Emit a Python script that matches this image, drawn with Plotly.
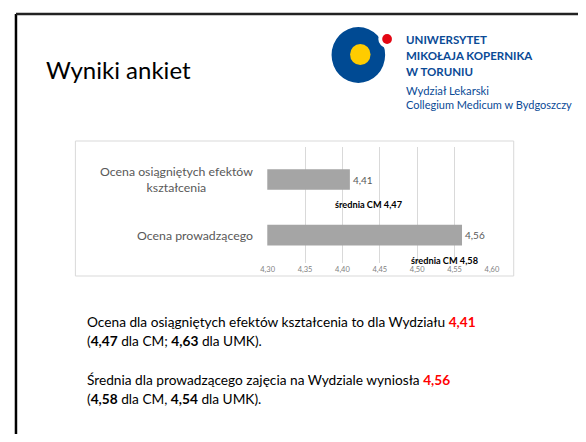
import plotly.graph_objects as go

# The page body adds an 8px margin, so the figure is drawn smaller (to avoid
# scrollbars) and every reference pixel position is shifted by that offset.
OFF = 8
W, H = 586 - OFF, 442 - 2 * OFF

# ---- data ----
categories = ["Ocena osiągniętych efektów kształcenia", "Ocena prowadzącego"]
category_labels = ["Ocena osiągniętych efektów<br>kształcenia", "Ocena prowadzącego"]
wydzial_values = [4.41, 4.56]
cm_values = [4.47, 4.58]
umk_values = [4.63, 4.54]
x_ticks = [4.30, 4.35, 4.40, 4.45, 4.50, 4.55, 4.60]


def px(x):
    return (x - OFF) / W


def py(y):
    return 1 - (y - OFF) / H


def fmt(v):
    return f"{v:.2f}".replace(".", ",")


FONT = "Lato"
GRAY = "#595959"
BLUE = "#0a4a96"

fig = go.Figure()
fig.add_trace(go.Bar(
    y=categories, x=wydzial_values, orientation="h",
    marker=dict(color="#a5a5a5", line=dict(width=0)),
    width=0.37,
    texttemplate="%{x:.2f}", textposition="outside",
    textfont=dict(family=FONT, size=10, color=GRAY),
    cliponaxis=False, hoverinfo="skip",
))

annotations = []
# category labels
for cat, lab in zip(categories, category_labels):
    annotations.append(dict(
        x=px(254), xref="paper", xanchor="right", y=cat, yref="y", yanchor="middle",
        text=lab, showarrow=False, align="center",
        font=dict(family=FONT, size=12.3, color=GRAY),
    ))
# CM averages
cm_x = [371, 449]
for cat, v, cx in zip(categories, cm_values, cm_x):
    annotations.append(dict(
        x=px(cx), xref="paper", xanchor="center", y=cat, yref="y", yanchor="middle",
        yshift=-25, text=f"<b>średnia CM {fmt(v)}</b>", showarrow=False,
        font=dict(family=FONT, size=9.2, color="black"),
    ))

# title
annotations.append(dict(x=px(38), y=py(70), xref="paper", yref="paper", xanchor="left",
                        yanchor="middle", text="Wyniki ankiet", showarrow=False,
                        font=dict(family=FONT, size=24, color="black")))

# logo texts
logo_lines = [
    ("<b>UNIWERSYTET</b>", 40, 11.5),
    ("<b>MIKOŁAJA KOPERNIKA</b>", 56, 11.5),
    ("<b>W TORUNIU</b>", 71, 11.5),
    ("Wydział Lekarski", 90, 11.3),
    ("Collegium Medicum w Bydgoszczy", 104, 11.0),
]
for t, yy, s in logo_lines:
    annotations.append(dict(x=px(409), y=py(yy), xref="paper", yref="paper", xanchor="left",
                            yanchor="middle", text=t, showarrow=False, borderwidth=0,
                            borderpad=0, font=dict(family=FONT, size=s, color=BLUE)))

# body text
RED = "#ff0000"
body = [
    (f"Ocena dla osiągniętych efektów kształcenia to dla Wydziału "
     f"<span style='color:{RED}'><b>{fmt(wydzial_values[0])}</b></span>", 321),
    (f"(<b>{fmt(cm_values[0])}</b> dla CM; <b>{fmt(umk_values[0])}</b> dla UMK).", 340),
    (f"Średnia dla prowadzącego zajęcia na Wydziale wyniosła "
     f"<span style='color:{RED}'><b>{fmt(wydzial_values[1])}</b></span>", 379),
    (f"(<b>{fmt(cm_values[1])}</b> dla CM, <b>{fmt(umk_values[1])}</b> dla UMK).", 398),
]
for t, yy in body:
    annotations.append(dict(x=px(80), y=py(yy), xref="paper", yref="paper", xanchor="left",
                            yanchor="middle", text=t, showarrow=False,
                            font=dict(family=FONT, size=13.7, color="black")))

shapes = [
    # slide frame: left and top edges only
    dict(type="line", xref="paper", yref="paper", x0=px(9), y0=0, x1=px(9), y1=py(14),
         line=dict(color="black", width=2.5), layer="above"),
    dict(type="line", xref="paper", yref="paper", x0=px(9), y0=py(14), x1=1, y1=py(14),
         line=dict(color="#222222", width=2.5), layer="above"),
    # chart frame
    dict(type="rect", xref="paper", yref="paper", x0=px(70), y0=py(141), x1=px(520), y1=py(276),
         line=dict(color="#d9d9d9", width=1), fillcolor="rgba(0,0,0,0)", layer="below"),
    # logo
    dict(type="circle", xref="paper", yref="paper", x0=px(333), y0=py(27), x1=px(388), y1=py(83),
         line=dict(width=0), fillcolor="#004a93"),
    dict(type="circle", xref="paper", yref="paper", x0=px(381), y0=py(30), x1=px(399), y1=py(48),
         line=dict(width=0), fillcolor="white"),
    dict(type="circle", xref="paper", yref="paper", x0=px(385), y0=py(34), x1=px(395), y1=py(44),
         line=dict(width=0), fillcolor="#e30613"),
    dict(type="circle", xref="paper", yref="paper", x0=px(352), y0=py(44), x1=px(373), y1=py(65),
         line=dict(width=0), fillcolor="#ffcc00"),
]

fig.update_layout(
    width=W, height=H, margin=dict(l=0, r=0, t=0, b=0),
    paper_bgcolor="white", plot_bgcolor="white",
    showlegend=False, separators=",.",
    bargap=0.63,
    font=dict(family=FONT),
    xaxis=dict(range=[4.2995, 4.6005], domain=[px(267), px(498)], tickvals=x_ticks,
               tickformat=".2f", showgrid=True, gridcolor="#d9d9d9", gridwidth=1,
               zeroline=False, showline=False, ticks="",
               tickfont=dict(family=FONT, size=7.5, color="#7f7f7f")),
    yaxis=dict(type="category", categoryorder="array", categoryarray=categories,
               autorange="reversed", domain=[py(263), py(147)], showticklabels=False,
               showgrid=False, zeroline=False, showline=False, ticks=""),
    annotations=annotations, shapes=shapes,
)

fig.write_html("out.html", config={"displayModeBar": False})
